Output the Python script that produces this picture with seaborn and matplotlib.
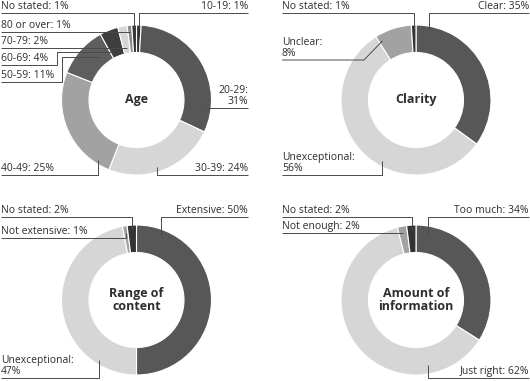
import numpy as np
import matplotlib.pyplot as plt
import seaborn as sns

# survey results (percent)
age_labels = ["10-19", "20-29", "30-39", "40-49", "50-59", "60-69", "70-79", "80 or over", "No stated"]
age_values = [1, 31, 24, 25, 11, 4, 2, 1, 1]

clarity_labels = ["Clear", "Unexceptional", "Unclear", "No stated"]
clarity_values = [35, 56, 8, 1]

range_labels = ["Extensive", "Unexceptional", "Not extensive", "No stated"]
range_values = [50, 47, 1, 2]

amount_labels = ["Too much", "Just right", "Not enough", "No stated"]
amount_values = [34, 62, 2, 2]

W, H = 530, 381
R_OUT, RING = 75, 27.5
TEXT_C = "#2e2e2e"
LINE_C = "#4a4a4a"

age_colors = ["#333333", "#575757", "#d6d6d6", "#a2a2a2", "#5e5e5e",
              "#3e3e3e", "#d6d6d6", "#8a8a8a", "#333333"]
four_colors = ["#575757", "#d6d6d6", "#a2a2a2", "#333333"]

# per slice: text x, underline y, align, wrap, position in slice, radius, route, knee x
age_layout = [
    (248, 13, "right", False, 0.5, 72, "hv", None),
    (248, 108, "right", True, 0.83, 70.5, "hv", None),
    (248, 175, "right", False, 0.55, 70, "hv", None),
    (1, 175, "left", False, 0.12, 71, "hv", None),
    (1, 82, "left", False, 0.7, 57, "step", 62),
    (1, 65, "left", False, 0.1, 54, "step", 57),
    (1, 48, "left", False, 0.5, 53, "hv", None),
    (1, 32, "left", False, 0.5, 68, "hv", None),
    (1, 13, "left", False, 0.5, 72, "hv", None),
]
clarity_layout = [
    (529, 13, "right", False, 0.083, 71, "hv", None),
    (282, 175, "left", True, 0.41, 70, "hv", None),
    (282, 60, "left", True, 0.1, 68, "diag", 364),
    (282, 13, "left", False, 0.5, 70, "hv", None),
]
range_layout = [
    (248, 217, "right", False, 0.115, 70, "hv", None),
    (1, 378, "left", True, 0.19, 71, "hv", None),
    (1, 238, "left", False, 0.5, 68, "hv", None),
    (1, 217, "left", False, 0.5, 70, "hv", None),
]
amount_layout = [
    (529, 217, "right", False, 0.086, 67, "hv", None),
    (529, 378, "right", False, 0.21, 66, "hv", None),
    (282, 233, "left", False, 0.5, 68, "hv", None),
    (282, 217, "left", False, 0.5, 70, "hv", None),
]

charts = [
    ("Age", (136.5, 100), age_labels, age_values, age_colors, age_layout),
    ("Clarity", (416, 100), clarity_labels, clarity_values, four_colors, clarity_layout),
    ("Range of\ncontent", (136.5, 300), range_labels, range_values, four_colors, range_layout),
    ("Amount of\ninformation", (416, 300), amount_labels, amount_values, four_colors, amount_layout),
]


def slice_point(center, values, i, frac, rad):
    total = float(sum(values))
    start = sum(values[:i]) / total * 360
    theta = np.radians(start + frac * values[i] / total * 360)
    x = center[0] + rad * np.sin(theta)
    y = center[1] - rad * np.cos(theta)
    return x, y


sns.set_theme(style="white")
plt.rcParams["font.family"] = ["Open Sans", "DejaVu Sans"]

fig = plt.figure(figsize=(W / 100, H / 100), dpi=100)
ax = fig.add_axes([0, 0, 1, 1])

for title, center, labels, values, colors, layout in charts:
    ax.pie(values, colors=colors, startangle=90, counterclock=False,
           radius=R_OUT, center=(center[0], H - center[1]), frame=True,
           wedgeprops=dict(width=RING, edgecolor="white", linewidth=0.8))
    ax.text(center[0], H - center[1], title, ha="center", va="center",
            fontsize=9, fontweight="bold", color=TEXT_C, linespacing=1.05)

    for i, (tx, uy, ha, wrap, frac, rad, route, knee) in enumerate(layout):
        sep = ":\n" if wrap else ": "
        ax.text(tx, H - uy + 1.2, f"{labels[i]}{sep}{values[i]}%", ha=ha, va="bottom",
                fontsize=7.5, color=TEXT_C, linespacing=1.0)
        axp, ayp = slice_point(center, values, i, frac, rad)
        if route == "hv":
            pts = [(tx, uy), (axp, uy), (axp, ayp)]
        elif route == "step":
            pts = [(tx, uy), (knee, uy), (knee, ayp), (axp, ayp)]
        else:
            pts = [(tx, uy), (knee, uy), (axp, ayp)]
        xs = [p[0] for p in pts]
        ys = [H - p[1] for p in pts]
        ax.plot(xs, ys, color=LINE_C, lw=0.7, zorder=5, solid_capstyle="butt")

ax.set_xlim(0, W)
ax.set_ylim(0, H)
ax.set_aspect("equal")
ax.axis("off")

fig.savefig("out.png", dpi=100, facecolor="white")
